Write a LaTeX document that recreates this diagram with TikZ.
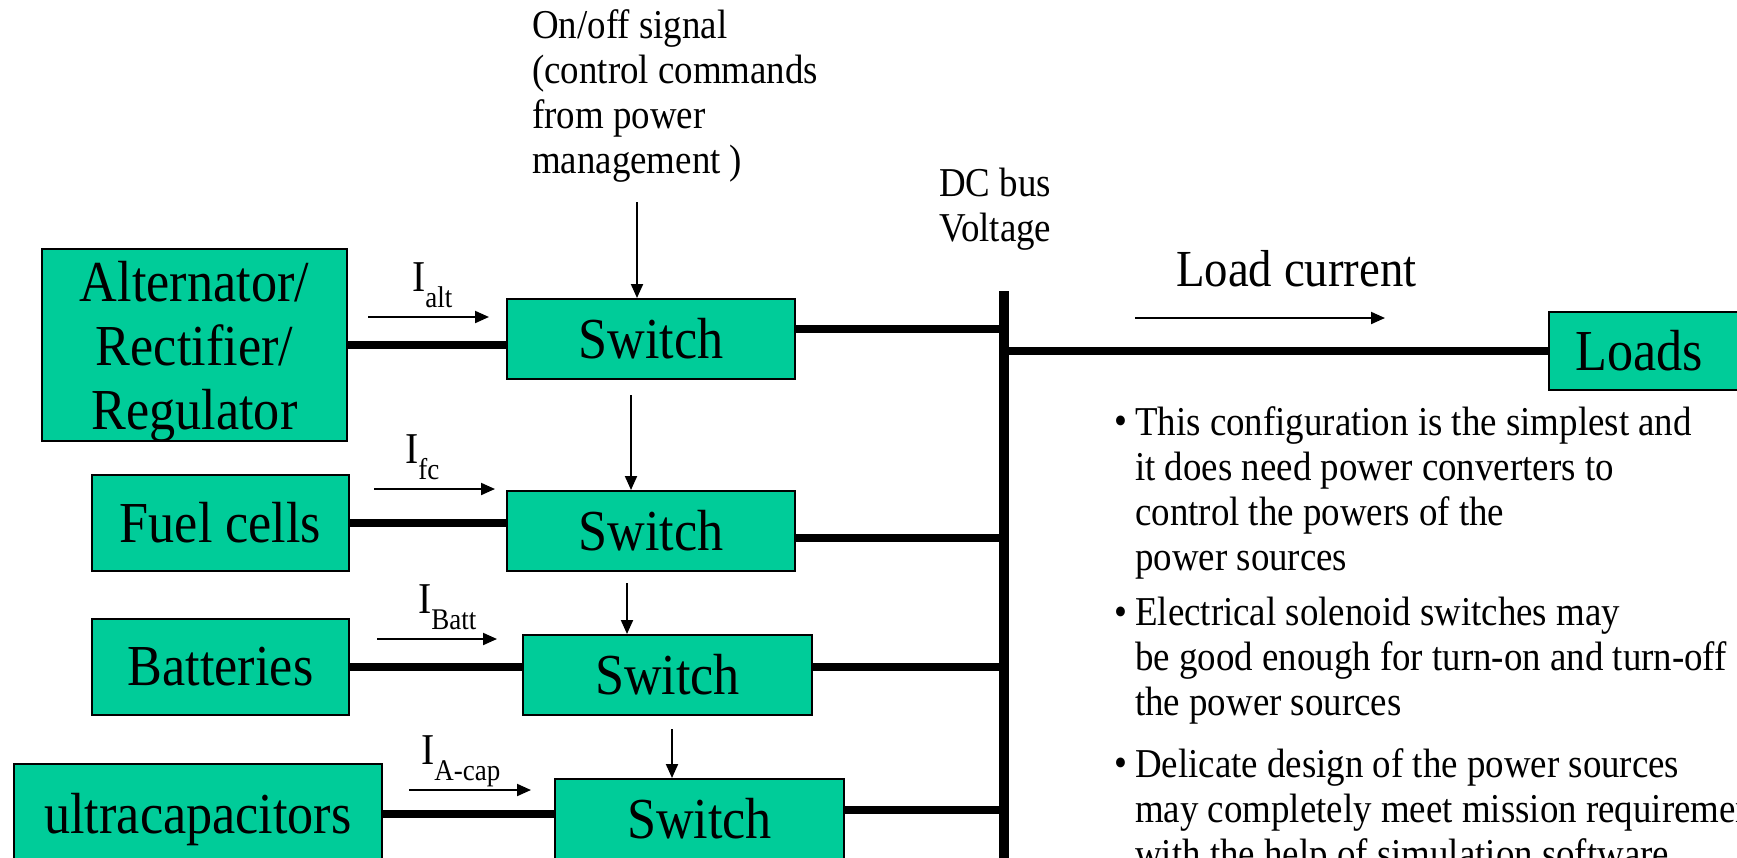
\documentclass[tikz,border=0pt]{standalone}
\usepackage{fontspec}
\setmainfont{Liberation Serif}[FakeStretch=0.9]
\usetikzlibrary{arrows.meta,calc}
\definecolor{boxgreen}{RGB}{0,204,153}
\newcommand\curlab[1]{{\fontsize{44}{44}\selectfont I}\raisebox{-16pt}{\fontsize{30}{30}\selectfont #1}}
\begin{document}
\begin{tikzpicture}[x=1pt,y=-1pt,
  box/.style={draw=black,line width=2pt,fill=boxgreen,inner sep=0pt,align=center,font=\fontsize{58}{64}\selectfont},
  boxtext/.style={inner sep=0pt,align=center,font=\fontsize{58}{64}\selectfont},
  power/.style={line width=8pt},
  busline/.style={line width=10pt},
  sig/.style={line width=2pt,-{Triangle[length=14pt,width=12pt]}},
  small/.style={font=\fontsize{41}{45}\selectfont,inner sep=0pt,align=left},
  lab/.style={inner sep=0pt,anchor=base west}
]
\useasboundingbox (0,0) rectangle (1737,857);
\clip (0,0) rectangle (1737,857);

% boxes
\node[box,minimum width=305pt,minimum height=192pt] (alt) at (194.5,345) {};
\node[boxtext] (altt) at ($(alt.center)+(0,7)$) {Alternator/\\Rectifier/\\Regulator};
\node[box,minimum width=288pt,minimum height=80pt] (sw1) at (651,339) {Switch};
\node[box,minimum width=257pt,minimum height=96pt] (fc) at (220.5,523) {Fuel cells};
\node[box,minimum width=288pt,minimum height=80pt] (sw2) at (651,531) {Switch};
\node[box,minimum width=257pt,minimum height=96pt] (bat) at (220.5,667) {Batteries};
\node[box,minimum width=289pt,minimum height=80pt] (sw3) at (667.5,675) {Switch};
\node[box,minimum width=368pt,minimum height=100pt] (uc) at (198,814) {};
\node[boxtext] (uct) at ($(uc.center)+(0,6)$) {ultracapacitors};
\node[box,minimum width=289pt,minimum height=80pt] (sw4) at (699.5,819) {Switch};
\node[box,minimum width=200pt,minimum height=78pt] (loads) at (1649,351) {Loads\hspace*{20pt}};

% DC bus
\coordinate (bt) at (1004,291);
\coordinate (bb) at (1004,870);
\draw[busline] (bt) -- (bb);

% power lines
\draw[power] (alt.east) -- (alt.east -| sw1.west);
\path ($(sw1.east)+(0,-10)$) coordinate (s1o);
\draw[power] (s1o) -- (s1o -| bt);
\draw[power] (fc.east) -- (fc.east -| sw2.west);
\path ($(sw2.east)+(0,7)$) coordinate (s2o);
\draw[power] (s2o) -- (s2o -| bt);
\draw[power] (bat.east) -- (bat.east -| sw3.west);
\path ($(sw3.east)+(0,-8)$) coordinate (s3o);
\draw[power] (s3o) -- (s3o -| bt);
\draw[power] (uc.east) -- (uc.east -| sw4.west);
\path ($(sw4.east)+(0,-9)$) coordinate (s4o);
\draw[power] (s4o) -- (s4o -| bt);
\draw[power] (bt |- loads.west) -- (loads.west);

% control arrows
\coordinate (c1) at (637,202);
\draw[sig] (c1) -- (c1 |- sw1.north);
\coordinate (c2) at (631,395);
\draw[sig] (c2) -- (c2 |- sw2.north);
\coordinate (c3) at (627,583);
\draw[sig] (c3) -- (c3 |- sw3.north);
\coordinate (c4) at (672,729);
\draw[sig] (c4) -- (c4 |- sw4.north);

% current arrows
\coordinate (a1) at (368,317);
\coordinate (a1e) at (489,317);
\draw[sig] (a1) -- (a1e);
\node[lab] (l1) at (412,291) {\curlab{alt}};
\coordinate (a2) at (374,489);
\coordinate (a2e) at (495,489);
\draw[sig] (a2) -- (a2e);
\node[lab] (l2) at (405,463) {\curlab{fc}};
\coordinate (a3) at (377,639);
\coordinate (a3e) at (497,639);
\draw[sig] (a3) -- (a3e);
\node[lab] (l3) at (418,613) {\curlab{Batt}};
\coordinate (a4) at (409,790);
\coordinate (a4e) at (531,790);
\draw[sig] (a4) -- (a4e);
\node[lab] (l4) at (421,764) {\curlab{A-cap}};

% load current
\coordinate (la) at (1135,318);
\coordinate (lae) at (1385,318);
\draw[sig] (la) -- (lae);
\node[lab,font=\fontsize{52}{52}\selectfont] (lc) at (1176,286) {Load current};

% texts
\node[small,anchor=north west] (onoff) at (532,9) {On/off signal\\(control commands\\from power\\management )};
\node[small,anchor=north west] (dc) at (939,168) {DC bus\\Voltage};

\node[small,anchor=base west] (b1) at (1114,434) {\textbullet};
\node[small,anchor=north west] (t1) at (1135,406) {This configuration is the simplest and\\it does need power converters to\\control the powers of the\\power sources};
\node[small,anchor=base west] (b2) at (1114,625) {\textbullet};
\node[small,anchor=north west] (t2) at (1135,597) {Electrical solenoid switches may\\be good enough for turn-on and turn-off\\the power sources};
\node[small,anchor=base west] (b3) at (1114,776) {\textbullet};
\node[small,anchor=north west] (t3) at (1135,748) {Delicate design of the power sources\\may completely meet mission requirements\\with the help of simulation software};
\end{tikzpicture}
\end{document}
